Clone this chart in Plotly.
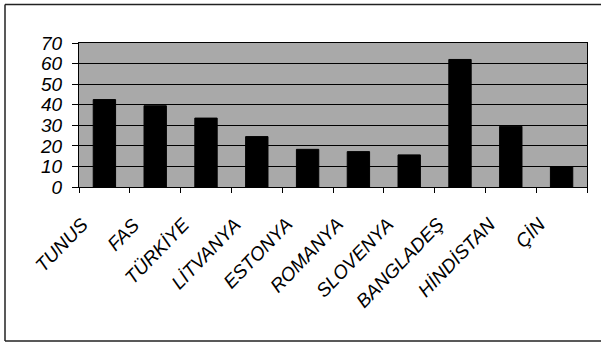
import plotly.graph_objects as go

countries = ["TUNUS", "FAS", "TÜRKİYE", "LİTVANYA", "ESTONYA",
             "ROMANYA", "SLOVENYA", "BANGLADEŞ", "HİNDİSTAN", "ÇİN"]
values = [42.5, 39.5, 33.5, 24.5, 18.3, 17.2, 15.6, 62.0, 29.5, 9.9]
y_ticks = [0, 10, 20, 30, 40, 50, 60, 70]

FONT = "Liberation Sans, Arial, sans-serif"

fig = go.Figure(go.Bar(
    x=countries, y=values,
    width=0.44,
    marker=dict(color="black", line=dict(color="black", width=1)),
))

# plot-area edges in pixels, used to place the outer frame in paper coordinates
L, R, T, B = 79, 587, 43, 187
W, H = R - L, B - T
def px_x(p):
    return (p - L) / W
def px_y(p):
    return (B - p) / H

frame = dict(color="#222222", width=1.5)
fig.add_shape(type="line", xref="paper", yref="paper",
              x0=px_x(5), x1=px_x(601), y0=px_y(4.5), y1=px_y(4.5), line=frame)
fig.add_shape(type="line", xref="paper", yref="paper",
              x0=px_x(5), x1=px_x(5), y0=px_y(4.5), y1=px_y(341), line=frame)
fig.add_shape(type="line", xref="paper", yref="paper",
              x0=px_x(5), x1=px_x(601), y0=px_y(341), y1=px_y(341), line=frame)

# rotated category labels below the axis, placed by category index
for i, name in enumerate(countries):
    fig.add_annotation(
        x=i, xref="x", y=px_y(211), yref="paper",
        text=name, showarrow=False, textangle=-46,
        xanchor="right", yanchor="top", xshift=-9,
        font=dict(family=FONT, size=19, style="italic", color="black"),
    )

fig.update_layout(
    width=602, height=343,
    margin=dict(l=L, r=602 - R, t=T, b=343 - B),
    paper_bgcolor="white",
    plot_bgcolor="#a9a9a9",
    showlegend=False,
    font=dict(family=FONT, color="black"),
)

fig.update_xaxes(
    type="category",
    categoryorder="array", categoryarray=countries,
    range=[-0.5, len(countries) - 0.5],
    showticklabels=False,
    showline=True, linecolor="black", linewidth=1, mirror=True,
    ticks="outside", ticklen=5, tickcolor="black", tickson="boundaries",
    showgrid=False,
)
fig.update_yaxes(
    range=[0, 70],
    tickvals=y_ticks,
    tickfont=dict(family=FONT, size=19, style="italic", color="black"),
    showline=True, linecolor="black", linewidth=1, mirror=True,
    ticks="outside", ticklen=6, tickcolor="black",
    showgrid=True, gridcolor="black", gridwidth=1,
    zeroline=False,
    ticklabelstandoff=6,
)

fig.write_html("out.html")
